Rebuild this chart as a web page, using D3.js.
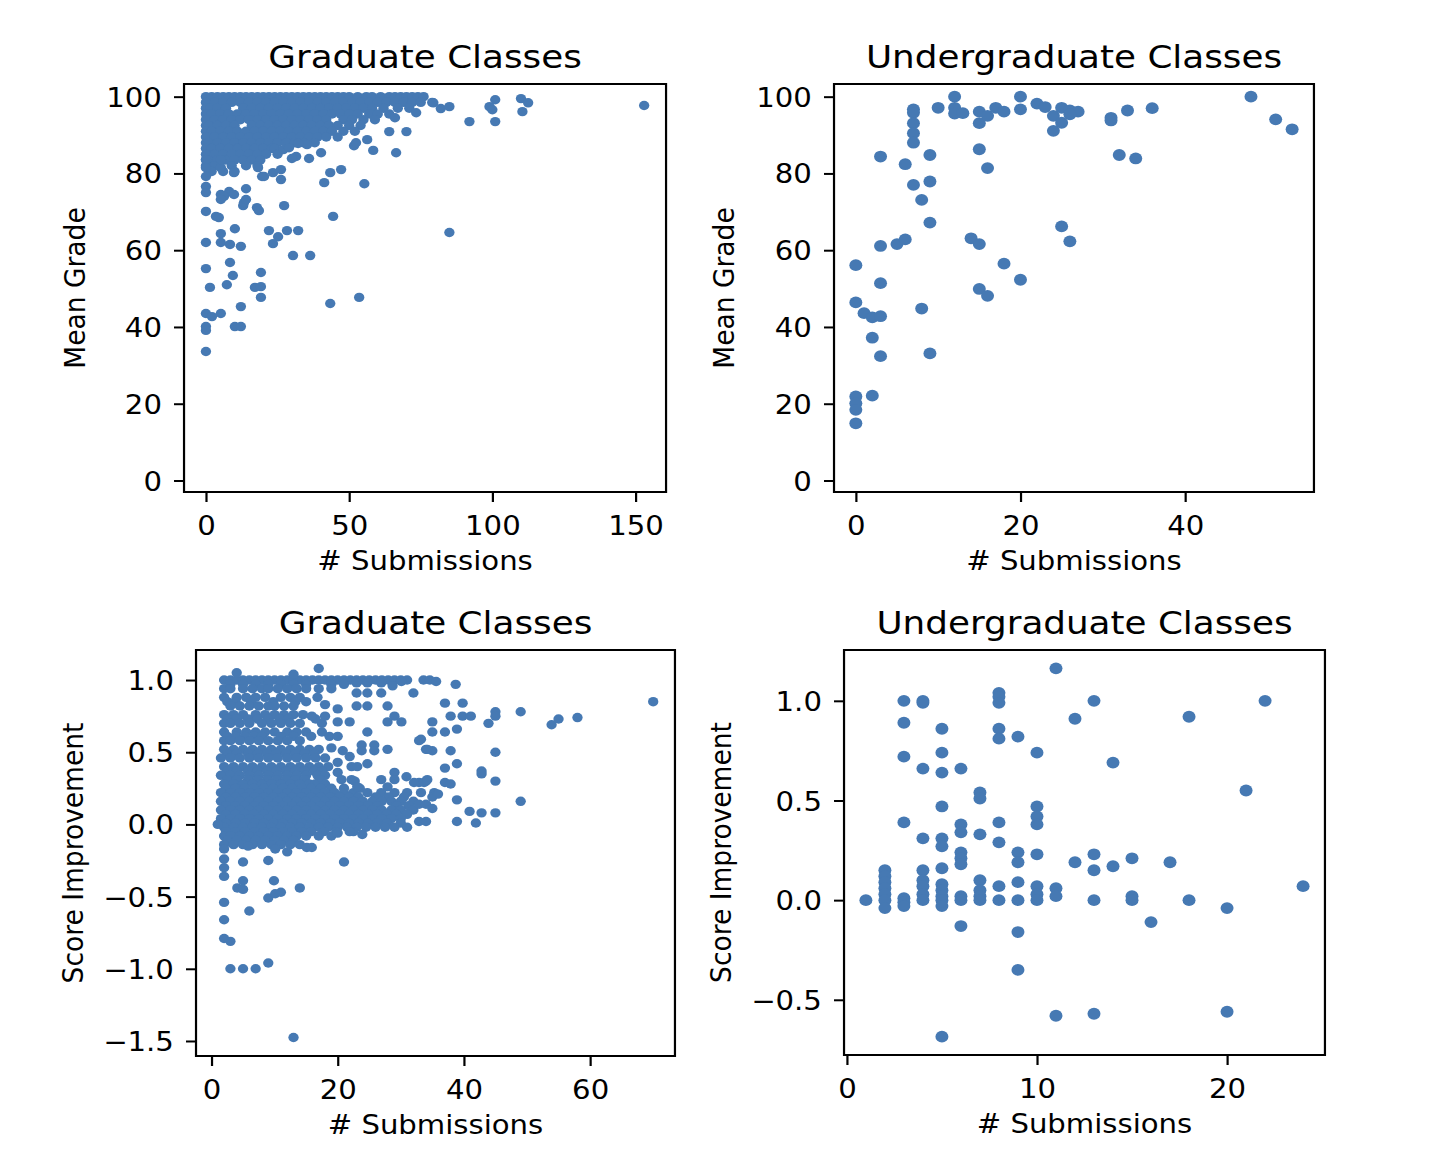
<!DOCTYPE html>
<html><head><meta charset="utf-8">
<script src="https://cdn.jsdelivr.net/npm/d3@7"></script>
<style>
body{margin:0;background:#fff}
text{font-family:"DejaVu Sans",sans-serif;fill:#000}
</style>
</head><body>
<svg id="c" width="1432" height="1150"></svg>
<script>
// ---------- DATA ----------
// Panel 1: Graduate Classes, # Submissions vs Mean Grade
const gradGradeSparse = [[79.4,98.4],[82,96.9],[85,97.4],[92,93.5],[99,97.4],[100,96.6],[101,99.2],[101,93.5],[110,99.5],[112.5,98.4],[110.5,96.1],[153,97.7],[73.4,95.8],[66,94.5],[64,90.9],[70,90.9],[66.4,85.4],[85,64.6],[58.4,86.0],[56.3,88.8],[55.3,77.3],[51.7,87.2],[52.4,88.0],[47.2,81.0],[43.4,80.2],[41.3,77.6],[44.4,68.8],[40.2,85.4],[36,83.9],[31.5,84.4],[30,83.9],[35.3,87.5],[32.2,87.8],[27,86.2],[29,86.7],[27.3,71.6],[26.2,78.4],[26.2,81.0],[23.4,80.2],[19.6,79.2],[20.3,79.2],[18.2,81.5],[14,76],[17.8,71.1],[18.5,70.3],[13,71.6],[9.8,80.2],[8.1,75.3],[9.8,74.5],[5.2,74.5],[6.3,74.0],[0,83.6],[0,81.5],[0,79.2],[0,76.6],[0,75.0],[0,70.1],[3.5,68.8],[5.2,81.5],[5.2,83.6],[4.5,68.5],[5.2,73.2],[13.3,72.4],[14,73.2],[5.2,64.3],[10.1,65.6],[22.0,65.1],[25.2,63.5],[28.3,65.1],[32.2,65.1],[23.4,61.7],[0,62.0],[5.2,62.0],[8.4,61.5],[12.2,61.0],[30.4,58.6],[36.4,58.6],[8.4,56.8],[0,55.2],[9.4,53.4],[19.2,54.2],[7.3,51.0],[1.4,50.3],[17.1,50.3],[19.2,50.5],[19.2,47.7],[43.4,46.1],[53.5,47.7],[12.2,45.3],[0,43.5],[2.1,42.7],[5.2,43.5],[10.1,40.1],[12.2,40.1],[0,40.1],[0,39.1],[0,33.6]];
const gradGradeRowY = [100,98.5,97,95.5,94,92.5,91,89.5,88,86.5,85,83.5,82,80.5];
const gradGradeRowX = [
 [0,2,4,6,8,10,12,14,16,18,20,22,24,26,28,30,32,34,36,38,40,42,44,46,48,50,53,56,58,61,64,66,68,70,72,74,76],
 [0,3,6,9,12,15,18,21,24,27,30,33,36,39,42,45,48,51,54,57,60,63,66,69,72,75,79],
 [0,1.5,4,7,13,16,19,22,25,28,31,34,37,40,43,46,49,52,55,58,62,67,71],
 [0,2,5,8,11,14,17,20,23,26,29,32,35,38,41,44,47,50,53,57,60,64],
 [0,3,6,9,12,15,18,21,24,27,30,33,36,39,42,48,51,55,59],
 [0,1,4,7,10,16,19,22,25,28,31,34,37,40,43,46,50,54],
 [0,2,5,8,11,14,17,20,23,26,29,32,35,38,41,44,48,52],
 [0,3,6,9,12,15,18,21,24,27,30,33,36,39,42,46],
 [0,1,4,7,10,13,16,19,22,25,28,31,34,38],
 [0,2,5,8,11,14,17,20,23,24],
 [0,3,6,9,12,15,18,21,25],
 [0,1,4,7,10,13,16,19],
 [0,3,9,14,18],
 [2,6,10]
];

// Panel 2: Undergraduate Classes, # Submissions vs Mean Grade
const ugGradePts = [[12,100],[20,100],[48,100],[10,97.1],[12,97.1],[12,95.6],[13,95.7],[7,96.7],[7,95.8],[7,93.1],[7,90.5],[7,88.0],[15,96.1],[15,93.1],[16,95.0],[17,97.1],[18,96.1],[20,96.7],[22,98.2],[23,97.3],[24,95.0],[25,97.1],[26,96.4],[27,96.1],[25,93.2],[24,91.1],[26,95.4],[31,94.5],[31,93.8],[33,96.4],[36,97.0],[51,94.1],[53,91.5],[3,84.4],[9,84.8],[6,82.4],[15,86.3],[16,81.4],[32,84.8],[34,83.9],[7,77.0],[9,77.9],[8,73.1],[9,67.2],[25,66.2],[26,62.3],[3,61.1],[5,61.6],[6,62.8],[14,63.1],[15,61.6],[0,56.1],[18,56.5],[20,52.3],[3,51.4],[15,49.9],[16,48.1],[0,46.4],[1,43.6],[2,42.5],[3,42.8],[8,44.8],[2,37.2],[3,32.4],[9,33.1],[0,21.9],[0,20.1],[0,18.4],[2,22.1],[0,14.9]];

// Panel 3: Graduate Classes, # Submissions vs Score Improvement
const gradImpSparse = [[4,1.05],[13,1.04],[17,1.08],[33.6,1.0],[34.6,1.0],[35.6,0.99],[38.7,0.97],[37,0.84],[39.8,0.84],[37.9,0.75],[39.8,0.75],[41.1,0.75],[45,0.78],[45,0.75],[43.9,0.70],[49,0.78],[53.9,0.69],[55,0.73],[58,0.74],[70,0.85],[35,0.71],[35,0.64],[37,0.64],[38.9,0.66],[32.9,0.58],[34,0.52],[35,0.51],[37.9,0.51],[45,0.50],[37,0.39],[38.9,0.42],[42.8,0.37],[42.8,0.35],[45,0.30],[32.9,0.29],[34,0.30],[37,0.29],[37.9,0.28],[35,0.19],[35.9,0.21],[38.9,0.17],[49,0.16],[32.9,0.14],[34,0.14],[35,0.11],[40.9,0.09],[42.8,0.08],[45,0.08],[32.9,0.02],[34,0.02],[38.9,0.02],[41.9,0.01],[32,0.91],[24.7,0.98],[26.9,0.98],[24.7,0.91],[26.9,0.91],[28.7,0.96],[30.1,0.99],[23,0.98],[23,0.91],[16.8,0.88],[18,0.83],[20,0.80],[23,0.82],[24.7,0.82],[27.9,0.82],[29,0.75],[30.1,0.71],[15.9,0.75],[18,0.75],[20,0.71],[21.9,0.71],[24.7,0.64],[27.9,0.71],[33.2,0.59],[34.2,0.52],[23.8,0.55],[25.8,0.55],[23.8,0.51],[25.8,0.51],[27.9,0.52],[18.7,0.61],[20,0.61],[19,0.53],[20.8,0.51],[21.9,0.47],[20,0.43],[20,0.36],[22.2,0.40],[23.1,0.40],[24.7,0.42],[22.2,0.31],[20.6,0.31],[29,0.36],[29,0.31],[30.9,0.33],[32.1,0.29],[33.7,0.29],[34.2,0.31],[22.7,0.30],[23.1,0.26],[26.9,0.31],[27.9,0.26],[1,0],[5.8,-0.15],[10.1,-0.17],[12,-0.19],[15.1,-0.16],[15.9,-0.16],[20,-0.06],[21.9,-0.05],[23.9,-0.07],[2,-0.17],[2,-0.24],[2,-0.30],[2,-0.36],[5,-0.26],[9,-0.25],[21,-0.26],[5,-0.39],[4.1,-0.44],[5,-0.45],[9.9,-0.39],[9,-0.51],[10.1,-0.48],[11,-0.47],[14,-0.44],[2,-0.54],[6,-0.60],[2,-0.66],[2,-0.79],[3,-0.81],[3,-1.0],[5,-1.0],[7,-1.0],[9,-0.96],[13,-1.476]];
const gradImpRowY = [1.0,0.97,0.94,0.88,0.85,0.82,0.76,0.73,0.70,0.64,0.61,0.58,0.52,0.49,0.46,0.40,0.37,0.34,0.31,0.28,0.25,0.22,0.19,0.16,0.13,0.10,0.07,0.04,0.01,-0.02,-0.05,-0.08,-0.11,-0.14];
const gradImpRowX = [
 [2,3,4,5,6,7,8,9,10,11,12,13,14,15,16,17,18,19,20,21,22,23,24,25,26,27,28,29,30,31],
 [3,5,7,9,11,13,15,19,21],
 [2,3,5,6.5,8,9,10.5,12,13.5,15,17,19],
 [2,4,5.5,7,8.5,11,12.5,14],
 [2.5,3.8,6.3,9.8,13.3,15],
 [3,4.5,6,7.5,9,10,11.5,13],
 [2,3.5,5,7,8.5,10,11.5,13,14.5],
 [2.5,4,5.8,7.3,9,10.8,12.2,16.5],
 [2,3,4.5,6,8,9.5,11,12.5,14,17.5],
 [2,4,5.5,7,8.5,10,12,13.5,15,17.5],
 [2.5,3.8,5.3,6.8,8,11,13,15.8],
 [2,3,4.5,6,7.5,9,10.5,12,14],
 [2,3.5,5,6.5,8,9.5,11,12.5,14,15.5,17],
 [2.5,4,5.8,7.3,8.8,10.3,11.8,13.3,14.8,16.3],
 [1.5,3,4.5,6,7.5,9,10.5,12,13.5,15,16.5,18],
 [2,3.5,5,6.5,8,9.5,11,12.5,14,15.5,17,18.5],
 [2.5,4,5.8,7.3,8.8,10.3,11.8,13.3,14.8,16.3,17.5],
 [1.5,3,4.5,6,7.5,9,10.5,12,13.5,15,16.8,18],
 [2.5,4,5.8,7.3,8.8,10.3,11.8,13.3,14.8,17.2],
 [2,3.5,5,6.5,8,9.5,11,12.5,14,15.5,16.4,18],
 [2.3,3.8,5.3,6.8,8.3,9.8,11.3,12.8,14.3,15.8,17.3,19,21,23.5],
 [1.5,3,4.5,6,7.5,9,10.5,12,13.5,15,16.5,18,19.5,21,22.5,24.7,26.9,29,31,33.2,35.3],
 [2.3,3.8,5.3,6.8,8.3,9.8,11.3,12.8,14.3,15.8,17.3,18.8,20.3,21.8,23.3,26,28,30.5],
 [1.5,3,4.5,6,7.5,9,10.5,12,13.5,15,16.5,18,19.5,21,22.5,24,25.5,27,28.5,30,32],
 [2.3,3.8,5.3,6.8,8.3,9.8,11.3,12.8,14.3,15.8,17.3,18.8,20.3,21.8,23.3,24.8,26.3,29.3,31.2],
 [1.5,3,4.5,6,7.5,9,10.5,12,13.5,15,16.5,18,19.5,21,22.5,24,25.5,27,28.5,30,32],
 [2.3,3.8,5.3,6.8,8.3,9.8,11.3,12.8,14.3,15.8,17.3,18.8,20.3,21.8,23.3,24.8,26.3,27.8,29.3,31],
 [1.5,3,4.5,6,7.5,9,10.5,12,13.5,15,16.5,18,19.5,21,22.5,24,25.5,27,28.5,30],
 [2.3,3.8,5.3,6.8,8.3,9.8,11.3,12.8,14.3,15.8,17.3,18.8,20.3,21.8,23.3,24.8,26.3,27.8,30],
 [2,3.5,5,6.5,8,9.5,11,12.5,14,15.5,17,18.5,20,21.5,23,24.5,26,27.5,29,31],
 [2.3,3.8,5.3,6.8,8.3,9.8,11.3,12.8,14.3,15.8,17.8,19.8,22.5],
 [2,3,4.5,6,7.5,9,10.5,12,13.5,15,17,19],
 [2.5,4,5.5,7,8.5,10,11.5,13],
 [2,3.5,5,6.5,8,9.5,11,12.5,14]
];

// Panel 4: Undergraduate Classes, # Submissions vs Score Improvement
const ugImpPts = [[1,0],[2,0.15],[2,0.12],[2,0.09],[2,0.06],[2,0.03],[2,0],[2,-0.04],[3,1.0],[3,0.89],[3,0.72],[3,0.39],[3,0.01],[3,-0.01],[3,-0.03],[4,1.0],[4,0.99],[4,0.66],[4,0.31],[4,0.15],[4,0.10],[4,0.07],[4,0.03],[4,0.0],[5,0.86],[5,0.74],[5,0.64],[5,0.47],[5,0.31],[5,0.27],[5,0.16],[5,0.08],[5,0.05],[5,0.02],[5,0.0],[5,-0.03],[5,-0.685],[6,0.66],[6,0.38],[6,0.34],[6,0.24],[6,0.21],[6,0.18],[6,0.02],[6,0.0],[6,-0.13],[7,0.54],[7,0.51],[7,0.33],[7,0.10],[7,0.05],[7,0.02],[7,0.0],[8,1.04],[8,1.02],[8,0.99],[8,0.86],[8,0.81],[8,0.39],[8,0.29],[8,0.07],[8,0.0],[9,0.82],[9,0.24],[9,0.19],[9,0.09],[9,0.0],[9,-0.16],[9,-0.35],[10,0.74],[10,0.47],[10,0.42],[10,0.38],[10,0.23],[10,0.07],[10,0.03],[10,0.0],[11,1.163],[11,0.06],[11,0.02],[11,-0.58],[12,0.91],[12,0.19],[13,1.0],[13,0.23],[13,0.15],[13,0.0],[13,-0.57],[14,0.69],[14,0.17],[15,0.21],[15,0.02],[15,0.0],[16,-0.11],[17,0.19],[18,0.92],[18,0.0],[20,-0.04],[20,-0.56],[21,0.55],[22,1.0],[24,0.07]];

// tick values
const gradGradeXTicks = [0,50,100,150];
const ugGradeXTicks = [0,20,40];
const gradeYTicks = [0,20,40,60,80,100];
const gradImpXTicks = [0,20,40,60];
const gradImpYTicks = [-1.5,-1.0,-0.5,0.0,0.5,1.0];
const ugImpXTicks = [0,10,20];
const ugImpYTicks = [-0.5,0.0,0.5,1.0];

const titles = ["Graduate Classes","Undergraduate Classes","Graduate Classes","Undergraduate Classes"];
const xLabel = "# Submissions";
const yLabels = ["Mean Grade","Mean Grade","Score Improvement","Score Improvement"];

// ---------- BUILD ----------
function fromRows(ys, xs){ const out=[]; ys.forEach((y,i)=>xs[i].forEach(x=>out.push([x,y]))); return out; }
const p1 = fromRows(gradGradeRowY, gradGradeRowX).concat(gradGradeSparse);
const p3 = fromRows(gradImpRowY, gradImpRowX).concat(gradImpSparse);

const COLOR = "#4679b3";
const SX = 1.1;
const TICK = 26.5, TITLE = 32.5;
const svg = d3.select('#c');
const root = svg.append('g').attr('transform', `scale(${SX},1)`);

function panel(c){
  const g = root.append('g');
  const x = d3.scaleLinear().domain(c.xd).range([c.l, c.r]);
  const y = d3.scaleLinear().domain(c.yd).range([c.b, c.t]);
  const clipId = 'clip'+c.id;
  g.append('clipPath').attr('id',clipId).append('rect')
    .attr('x',c.l).attr('y',c.t).attr('width',c.r-c.l).attr('height',c.b-c.t);
  g.append('g').attr('clip-path',`url(#${clipId})`).selectAll('circle').data(c.pts).join('circle')
    .attr('cx',d=>x(d[0])).attr('cy',d=>y(d[1])).attr('r',c.rad).attr('fill',COLOR);
  // axes
  const xa = g.append('g').attr('transform',`translate(0,${c.b})`)
    .call(d3.axisBottom(x).tickValues(c.xt).tickFormat(c.xf).tickSize(10).tickPadding(0));
  xa.select('.domain').remove();
  xa.selectAll('line').attr('stroke','#000').attr('stroke-width',2);
  xa.selectAll('text').attr('dy',null).attr('y',43).style('font-size',TICK+'px').attr('fill','#000');
  const ya = g.append('g').attr('transform',`translate(${c.l},0)`)
    .call(d3.axisLeft(y).tickValues(c.yt).tickFormat(c.yf).tickSize(9.1).tickPadding(11));
  ya.select('.domain').remove();
  ya.selectAll('line').attr('stroke','#000').attr('stroke-width',2);
  ya.selectAll('text').attr('dy','0.36em').style('font-size',TICK+'px').attr('fill','#000');
  g.append('rect').attr('x',c.l).attr('y',c.t).attr('width',c.r-c.l).attr('height',c.b-c.t)
    .attr('fill','none').attr('stroke','#000').attr('stroke-width',2);
  g.append('text').attr('x',(c.l+c.r)/2).attr('y',c.t-16).attr('text-anchor','middle')
    .style('font-size',TITLE+'px').text(c.title);
  g.append('text').attr('x',(c.l+c.r)/2).attr('y',c.b+78).attr('text-anchor','middle')
    .style('font-size',TICK+'px').text(xLabel);
  g.append('text').attr('transform',`translate(${c.l-c.ylo},${(c.t+c.b)/2}) rotate(-90)`)
    .attr('text-anchor','middle').style('font-size',TICK+'px').text(c.ylabel);
}

const fInt = d3.format('d'), f1 = d3.format('.1f');
panel({id:1,l:167.3,r:605.5,t:84,b:492,xd:[-7.65,160.65],yd:[-3.0,103.3],xt:gradGradeXTicks,yt:gradeYTicks,xf:fInt,yf:fInt,pts:p1,rad:4.7,title:titles[0],ylabel:yLabels[0],ylo:90});
panel({id:2,l:758.2,r:1194.5,t:84,b:492,xd:[-2.65,55.65],yd:[-3.0,103.3],xt:ugGradeXTicks,yt:gradeYTicks,xf:fInt,yf:fInt,pts:ugGradePts,rad:5.9,title:titles[1],ylabel:yLabels[1],ylo:90.9});
panel({id:3,l:178.2,r:613.6,t:650,b:1056,xd:[-2.45,73.45],yd:[-1.604,1.208],xt:gradImpXTicks,yt:gradImpYTicks,xf:fInt,yf:f1,pts:p3,rad:4.7,title:titles[2],ylabel:yLabels[2],ylo:102.7});
panel({id:4,l:767.3,r:1204.5,t:650,b:1055,xd:[-0.15,25.15],yd:[-0.777,1.255],xt:ugImpXTicks,yt:ugImpYTicks,xf:fInt,yf:f1,pts:ugImpPts,rad:5.9,title:titles[3],ylabel:yLabels[3],ylo:102.8});
</script>
</body></html>
